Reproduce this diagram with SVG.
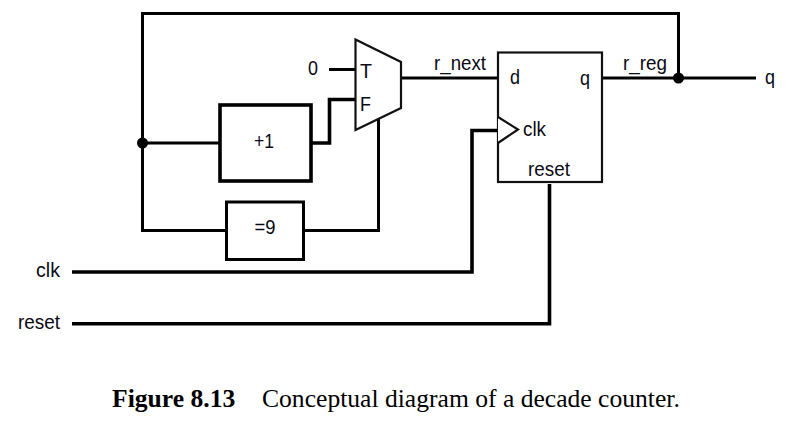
<svg xmlns="http://www.w3.org/2000/svg" width="812" height="425" viewBox="0 0 812 425">
<style>
.l{fill:none;stroke:#000;stroke-width:3}
.h{fill:none;stroke:#000;stroke-width:3.600}
.b{fill:#fff;stroke:#000;stroke-width:3}
.t{fill:#fff;stroke:#111;stroke-width:2.200}
text{font-family:"Liberation Sans",Arial,sans-serif;font-size:21px;fill:#0a0a14}
.m{text-anchor:middle}
.c{font-family:"Liberation Serif","Times New Roman",serif;font-size:25.6px;fill:#000}
</style>
<rect width="812" height="425" fill="#fff"/>
<g id="connectors">
<path class="l" d="M142.500 143V13.500H678.500V78"/>
<path class="l" d="M142.500 143H220"/>
<path class="l" d="M142.500 143V230.500H227"/>
<path class="h" d="M311 143H329.500V99.500H356"/>
<path class="l" d="M329 69.500H356"/>
<path class="l" d="M303 230.500H378.500V118"/>
<path class="l" d="M401 78H498"/>
<path class="l" d="M602 78H756"/>
<path class="h" d="M72 272H472V130.500H498"/>
<path class="h" d="M72 323.800H549.500V184"/>
<circle cx="142.500" cy="143" r="5.500"/>
<circle cx="678.500" cy="78" r="5.500"/>
</g>
<g id="inc"><rect class="h" style="fill:#fff" x="220" y="105" width="91" height="76"/><text class="m" x="264" y="148" textLength="20" lengthAdjust="spacingAndGlyphs">+1</text></g>
<g id="cmp"><rect class="b" x="226.500" y="202" width="77" height="57.500"/><text class="m" x="265" y="234" textLength="21" lengthAdjust="spacingAndGlyphs">=9</text></g>
<g id="mux"><path class="t" d="M355.500 39.500L401 62V108L355.500 130Z"/><text x="360" y="78" textLength="12" lengthAdjust="spacingAndGlyphs">T</text><text x="360" y="111" textLength="11" lengthAdjust="spacingAndGlyphs">F</text></g>
<g id="reg"><rect class="t" x="498" y="52.500" width="104" height="129.500"/><path class="t" d="M498 117L518 129.500L498 143"/>
<text x="510" y="84" textLength="10" lengthAdjust="spacingAndGlyphs">d</text><text x="580" y="85" textLength="10" lengthAdjust="spacingAndGlyphs">q</text><text x="523" y="136" textLength="23" lengthAdjust="spacingAndGlyphs">clk</text><text x="528" y="176" textLength="42" lengthAdjust="spacingAndGlyphs">reset</text></g>
<g id="labels">
<text x="308" y="75" textLength="10" lengthAdjust="spacingAndGlyphs">0</text><text x="434" y="70" textLength="52" lengthAdjust="spacingAndGlyphs">r_next</text><text x="623" y="70" textLength="44" lengthAdjust="spacingAndGlyphs">r_reg</text><text x="765" y="84" textLength="10" lengthAdjust="spacingAndGlyphs">q</text>
<text x="36" y="277" textLength="24" lengthAdjust="spacingAndGlyphs">clk</text><text x="18" y="329" textLength="42" lengthAdjust="spacingAndGlyphs">reset</text>
<text class="c" x="112" y="407" font-weight="bold">Figure 8.13</text>
<text class="c" x="262" y="407">Conceptual diagram of a decade counter.</text>
</g>
</svg>
